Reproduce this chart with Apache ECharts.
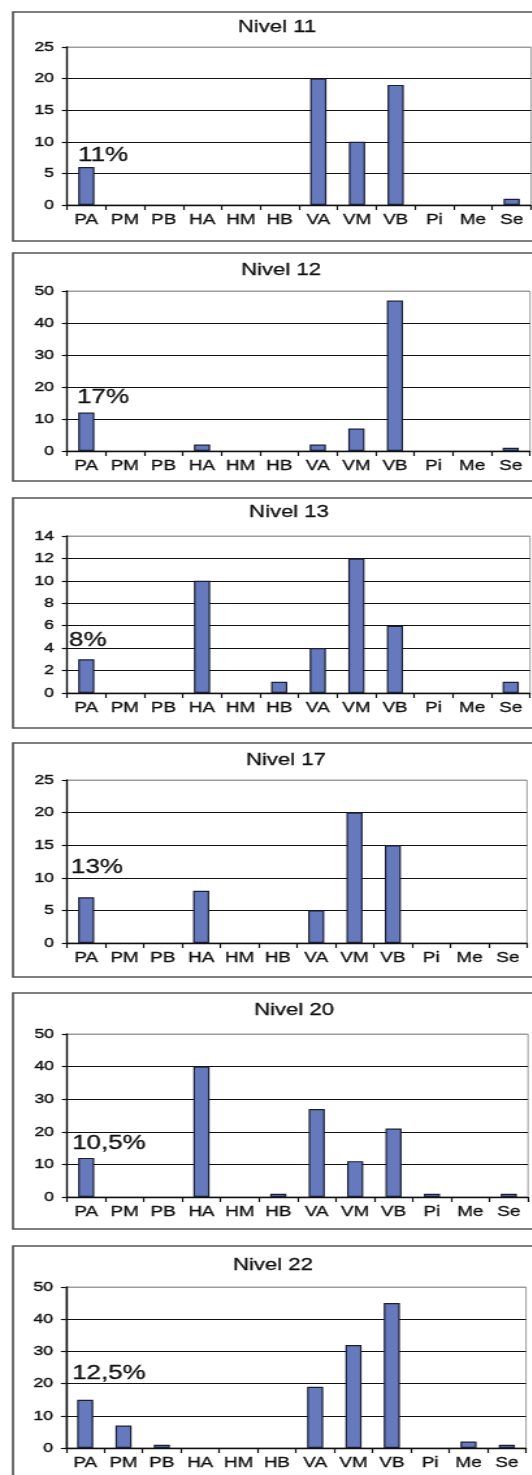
<!DOCTYPE html>
<html>
<head>
<meta charset="utf-8">
<title>Niveles</title>
<script src="https://cdn.jsdelivr.net/npm/echarts@6/dist/echarts.min.js"></script>
<style>
  html, body { margin: 0; padding: 0; background: #ffffff; width: 532px; height: 1475px; overflow: hidden; }
  #chart { width: 431px; height: 1475px; transform: scaleX(1.3); transform-origin: 0 0; }
</style>
</head>
<body>
<div id="chart"></div>
<script>
// Categories shared by every level
const categories = ['PA', 'PM', 'PB', 'HA', 'HM', 'HB', 'VA', 'VM', 'VB', 'Pi', 'Me', 'Se'];

// Counts per category, one array per level
const nivel11 = [6, 0, 0, 0, 0, 0, 20, 10, 19, 0, 0, 1];
const nivel12 = [12, 0, 0, 2, 0, 0, 2, 7, 47, 0, 0, 1];
const nivel13 = [3, 0, 0, 10, 0, 1, 4, 12, 6, 0, 0, 1];
const nivel17 = [7, 0, 0, 8, 0, 0, 5, 20, 15, 0, 0, 0];
const nivel20 = [12, 0, 0, 40, 0, 1, 27, 11, 21, 1, 0, 1];
const nivel22 = [15, 7, 1, 0, 0, 0, 19, 32, 45, 0, 2, 1];

const titles = ['Nivel 11', 'Nivel 12', 'Nivel 13', 'Nivel 17', 'Nivel 20', 'Nivel 22'];
const shares = ['11%', '17%', '8%', '13%', '10,5%', '12,5%'];
const yMax = [25, 50, 14, 25, 50, 50];
const yStep = [5, 10, 2, 5, 10, 10];

const levels = [nivel11, nivel12, nivel13, nivel17, nivel20, nivel22];

// The page is widened horizontally by S; positions below are in page px
const S = 1.3;
const X = v => v / S;

// Panel frames: box [top, bottom], plot [left, right, top, bottom], title centre, share label anchor
const panels = [
  { box: [12, 241],   plot: [67, 531, 47, 205],    title: [277, 27.5], share: [78, 155] },
  { box: [253, 481],  plot: [67, 530, 291, 451],   title: [281, 270.5], share: [77, 397] },
  { box: [498, 728],  plot: [67, 530, 536, 693],   title: [289, 512],  share: [69, 640] },
  { box: [743, 977],  plot: [67, 527, 780, 943],   title: [286, 760],  share: [71, 867] },
  { box: [993, 1229], plot: [67, 528, 1034, 1197], title: [294, 1010], share: [72, 1143] },
  { box: [1246, 1495], plot: [66, 526, 1287, 1448], title: [273, 1265], share: [72, 1373] }
];

const FONT = '"Liberation Sans", Arial, Helvetica, sans-serif';
const INK = '#111111';
const FRAME = '#9c9c9c';
const BAR = '#6679bd';
const BAR_EDGE = '#1b1f33';

const grid = [], xAxis = [], yAxis = [], series = [], graphic = [];

panels.forEach((p, i) => {
  const [l, r, t, b] = p.plot;
  grid.push({
    left: X(l), width: X(r - l), top: t, height: b - t,
    show: true, borderColor: FRAME, borderWidth: 1, backgroundColor: 'transparent'
  });

  xAxis.push({
    gridIndex: i, type: 'category', data: categories, boundaryGap: true,
    axisLine: { show: true, lineStyle: { color: INK, width: 1.4 } },
    axisTick: { show: true, length: 5, interval: 0, lineStyle: { color: INK, width: 1.2 } },
    axisLabel: {
      interval: 0, color: INK, fontSize: 14.5, fontFamily: FONT, margin: 7,
      textBorderColor: INK, textBorderWidth: 0.3
    },
    splitLine: { show: false }
  });

  const nTicks = Math.round(yMax[i] / yStep[i]) + 1;
  const lineColors = Array.from({ length: nTicks }, (_, k) => (k === nTicks - 1 ? FRAME : INK));
  yAxis.push({
    gridIndex: i, type: 'value', min: 0, max: yMax[i], interval: yStep[i],
    axisLine: { show: true, lineStyle: { color: INK, width: 1.4 } },
    axisTick: { show: true, length: 4, lineStyle: { color: INK, width: 1.2 } },
    axisLabel: {
      color: INK, fontSize: 13.5, fontFamily: FONT, margin: 10,
      textBorderColor: INK, textBorderWidth: 0.4
    },
    splitLine: { show: true, lineStyle: { color: lineColors, width: 1.1 } }
  });

  // Empty categories carry no bar
  series.push({
    type: 'bar', xAxisIndex: i, yAxisIndex: i,
    data: levels[i].map(v => (v === 0 ? '-' : v)),
    barWidth: '42%',
    itemStyle: { color: BAR, borderColor: BAR_EDGE, borderWidth: 1.2 },
    silent: true
  });

  // Panel frame
  graphic.push({
    type: 'rect', silent: true, z: 0,
    shape: { x: X(13), y: p.box[0], width: X(545 - 13), height: p.box[1] - p.box[0] },
    style: { fill: 'none', stroke: '#555555', lineWidth: 1.7 }
  });
  // Panel title
  graphic.push({
    type: 'text', silent: true, z: 10,
    x: X(p.title[0]), y: p.title[1],
    style: {
      text: titles[i], align: 'center', verticalAlign: 'middle', fontSize: 17, fontFamily: FONT,
      fill: INK, stroke: INK, lineWidth: 0.3
    }
  });
  // Share annotation inside the plot
  graphic.push({
    type: 'text', silent: true, z: 10,
    x: X(p.share[0]), y: p.share[1],
    style: {
      text: shares[i], align: 'left', verticalAlign: 'middle', fontSize: 20, fontFamily: FONT,
      fill: INK, stroke: INK, lineWidth: 0.3
    }
  });
});

const chart = echarts.init(document.getElementById('chart'), null, { renderer: 'canvas' });
chart.setOption({
  animation: false,
  backgroundColor: '#ffffff',
  grid, xAxis, yAxis, series, graphic
});
</script>
</body>
</html>
